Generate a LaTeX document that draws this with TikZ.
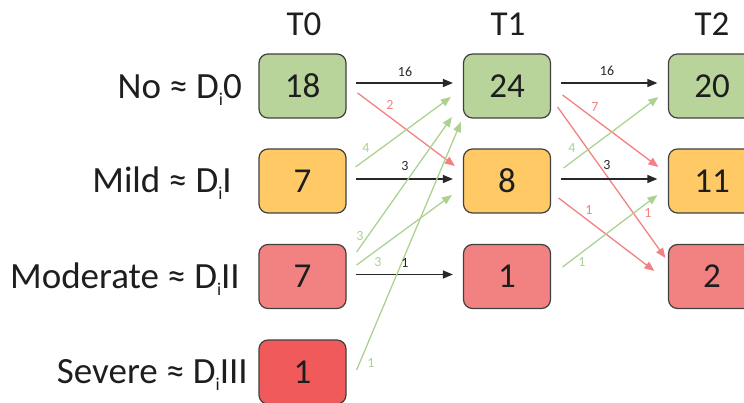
\documentclass[tikz,border=0pt]{standalone}
\usepackage{fontspec}
\setmainfont{Carlito}
\usetikzlibrary{arrows.meta}
\definecolor{boxline}{RGB}{64,64,64}
\definecolor{textc}{RGB}{30,30,30}
\definecolor{gfill}{RGB}{184,212,154}
\definecolor{ofill}{RGB}{255,201,102}
\definecolor{pfill}{RGB}{242,130,130}
\definecolor{rfill}{RGB}{240,90,90}
\definecolor{garr}{RGB}{172,210,146}
\definecolor{parr}{RGB}{244,128,130}
\definecolor{barr}{RGB}{40,40,40}
\newcommand\subidx{\raisebox{-7pt}{\fontsize{18}{18}\selectfont i}}
\begin{document}
\begin{tikzpicture}[x=1pt,y=-1pt,
  box/.style={draw=boxline, line width=1.2pt, rounded corners=9pt, minimum width=87pt, minimum height=64pt, inner sep=0pt, text=textc, font=\fontsize{35}{40}\selectfont},
  big/.style={inner sep=0pt, text=textc, font=\fontsize{35}{40}\selectfont},
  rowlbl/.style={inner sep=0pt, text=textc, font=\fontsize{37}{42}\selectfont},
  arr/.style={line width=1.3pt, -{Triangle[length=10pt,width=8pt]}},
  blk/.style={arr, draw=barr},
  pnk/.style={arr, draw=parr},
  grn/.style={arr, draw=garr},
  lbl/.style={inner sep=0pt, font=\fontsize{14}{16}\selectfont},
  lblk/.style={lbl, text=barr},
  lpnk/.style={lbl, text=parr},
  lgrn/.style={lbl, text=garr}]
\useasboundingbox (0,0) rectangle (744,403);
% headers
\node[big, anchor=base] (h0) at (304,36) {T0};
\node[big, anchor=base] (h1) at (508,36) {T1};
\node[big, anchor=base] (h2) at (712,36) {T2};
% row labels
\node[rowlbl, anchor=base east] (r0) at (242,99) {No ≈ D\subidx 0};
\node[rowlbl, anchor=base east] (r1) at (232,193) {Mild ≈ D\subidx I};
\node[rowlbl, anchor=base east] (r2) at (240,288) {Moderate ≈ D\subidx II};
\node[rowlbl, anchor=base east] (r3) at (248,383) {Severe ≈ D\subidx III};
% boxes T0
\node[box, fill=gfill] (a0) at (302.5,86) {18};
\node[box, fill=ofill] (a1) at (302.5,181) {7};
\node[box, fill=pfill] (a2) at (302.5,276.5) {7};
\node[box, fill=rfill] (a3) at (302.5,372) {1};
% boxes T1
\node[box, fill=gfill] (b0) at (507,86) {24};
\node[box, fill=ofill] (b1) at (507,181) {8};
\node[box, fill=pfill] (b2) at (507,276.5) {1};
% boxes T2
\node[box, fill=gfill] (c0) at (712,86) {20};
\node[box, fill=ofill] (c1) at (712,181) {11};
\node[box, fill=pfill] (c2) at (712,276.5) {2};
% T0 -> T1
\draw[blk] ([shift={(9,-3)}]a0.east) -- ([shift={(-10,-3)}]b0.west);
\draw[pnk] ([shift={(11,7)}]a0.east) -- ([shift={(-8,-15)}]b1.west);
\draw[grn] ([shift={(9,-14)}]a1.east) -- ([shift={(-12,11)}]b0.west);
\draw[blk] ([shift={(9,-2)}]a1.east) -- ([shift={(-10,-2)}]b1.west);
\draw[grn] ([shift={(10,-24.5)}]a2.east) -- ([shift={(-11,31)}]b0.west);
\draw[grn] ([shift={(10,-11.5)}]a2.east) -- ([shift={(-11,14)}]b1.west);
\draw[blk] ([shift={(9,-2)}]a2.east) -- ([shift={(-10,-2)}]b2.west);
\draw[grn] ([shift={(10,-2)}]a3.east) -- ([shift={(-2,36)}]b0.west);
% T1 -> T2
\draw[blk] ([shift={(9.5,-3)}]b0.east) -- ([shift={(-10.5,-3)}]c0.west);
\draw[pnk] ([shift={(11.5,9)}]b0.east) -- ([shift={(-9.5,-14)}]c1.west);
\draw[pnk] ([shift={(6.5,21)}]b0.east) -- ([shift={(-2.5,-18.5)}]c2.west);
\draw[grn] ([shift={(12.5,-13)}]b1.east) -- ([shift={(-9.5,11)}]c0.west);
\draw[blk] ([shift={(9.5,-2)}]b1.east) -- ([shift={(-10.5,-2)}]c1.west);
\draw[pnk] ([shift={(7.5,17)}]b1.east) -- ([shift={(-13.5,-5.5)}]c2.west);
\draw[grn] ([shift={(11.5,-9.5)}]b2.east) -- ([shift={(-10.5,14)}]c1.west);
% edge labels T0 -> T1
\node[lblk] (l1) at (405,72) {16};
\node[lpnk] (l2) at (390,105) {2};
\node[lgrn] (l3) at (366,148) {4};
\node[lblk] (l4) at (405,166) {3};
\node[lgrn] (l5) at (360,236) {3};
\node[lgrn] (l6) at (378,262) {3};
\node[lblk] (l7) at (405,263) {1};
\node[lgrn] (l8) at (371,363) {1};
% edge labels T1 -> T2
\node[lblk] (m1) at (607,71) {16};
\node[lpnk] (m2) at (595,107) {7};
\node[lpnk] (m3) at (648,213) {1};
\node[lgrn] (m4) at (572,148) {4};
\node[lblk] (m5) at (607,165) {3};
\node[lpnk] (m6) at (589,210) {1};
\node[lgrn] (m7) at (582,262) {1};
\end{tikzpicture}
\end{document}
